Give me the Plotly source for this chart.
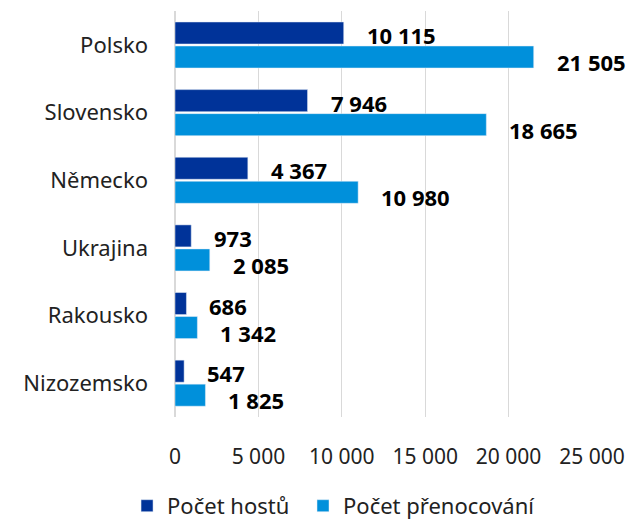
import plotly.graph_objects as go

countries = ["Polsko", "Slovensko", "Německo", "Ukrajina", "Rakousko", "Nizozemsko"]
hoste = [10115, 7946, 4367, 973, 686, 547]
prenocovani = [21505, 18665, 10980, 2085, 1342, 1825]
series_names = ["Počet hostů", "Počet přenocování"]
x_ticks = [0, 5000, 10000, 15000, 20000, 25000]

DARK = "#003399"
LIGHT = "#0090DB"
FONT = "Noto Sans"

def fmt(v):
    return f"{v:,}".replace(",", " ")

fig = go.Figure()
fig.add_trace(go.Bar(y=countries, x=hoste, orientation="h", name=series_names[0],
                     marker_color=DARK, legend="legend"))
fig.add_trace(go.Bar(y=countries, x=prenocovani, orientation="h", name=series_names[1],
                     marker_color=LIGHT, legend="legend2"))

annotations = []
for c, v in zip(countries, hoste):
    annotations.append(dict(x=v, y=c, xref="x", yref="y", text="<b>" + fmt(v) + "</b>",
                            showarrow=False, xanchor="left", xshift=21, yshift=10,
                            font=dict(family=FONT, size=22, color="#000")))
for c, v in zip(countries, prenocovani):
    annotations.append(dict(x=v, y=c, xref="x", yref="y", text="<b>" + fmt(v) + "</b>",
                            showarrow=False, xanchor="left", xshift=21, yshift=-17,
                            font=dict(family=FONT, size=22, color="#000")))

legend_common = dict(orientation="h", y=-0.219, yanchor="middle", xanchor="left",
                     font=dict(family=FONT, size=22, color="#222"),
                     bgcolor="rgba(0,0,0,0)")

fig.update_layout(
    width=635, height=519,
    margin=dict(l=175, r=43, t=11, b=102, autoexpand=False),
    paper_bgcolor="white", plot_bgcolor="white",
    barmode="group", bargap=0.29, bargroupgap=0.083,
    separators=", ",
    font=dict(family=FONT, size=21, color="#222"),
    showlegend=True,
    legend=dict(x=-0.115, **legend_common),
    legend2=dict(x=0.307, **legend_common),
    annotations=annotations,
)
fig.update_xaxes(range=[0, 25000], tickvals=x_ticks, tickformat=",d", automargin=False,
                 showgrid=True, gridcolor="#d9d9d9", gridwidth=1,
                 zeroline=True, zerolinecolor="#d9d9d9", zerolinewidth=2,
                 showline=False, ticks="", ticklabelstandoff=25,
                 tickfont=dict(family=FONT, size=21, color="#222"))
fig.update_yaxes(autorange="reversed", showgrid=False, showline=False, ticks="",
                 ticklabelstandoff=26, automargin=False,
                 tickfont=dict(family=FONT, size=22, color="#222"))

fig.write_html("out.html", config={"displayModeBar": False},
               post_script="document.body.style.margin='0';document.body.style.overflow='hidden';")
